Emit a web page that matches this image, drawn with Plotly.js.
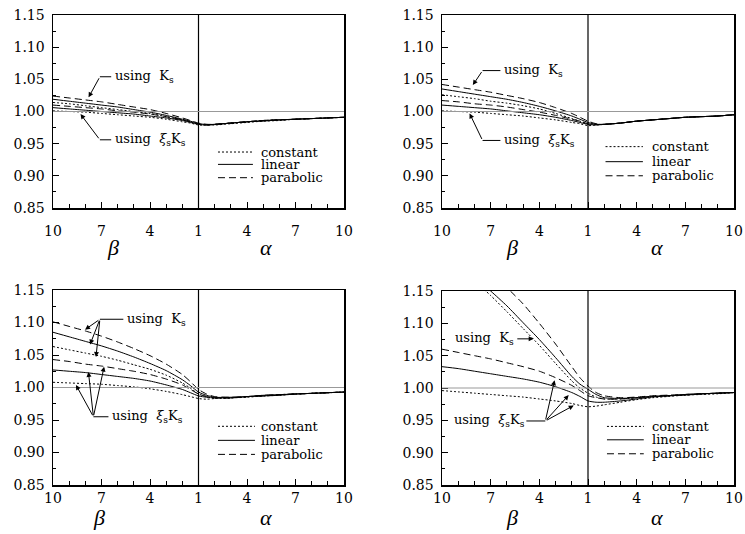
<!DOCTYPE html>
<html><head><meta charset="utf-8">
<script src="https://cdn.plot.ly/plotly-3.0.1.min.js"></script>
<style>html,body{margin:0;padding:0;background:#fff}</style>
</head><body><div id="chart" style="width:745px;height:534px"></div>
<script>
// x positions: beta side (10 -> 1) then alpha side (1.5 -> 10)
const betaPts = [10, 9, 8, 7, 6, 5, 4, 3, 2, 1.5, 1];
const alphaPts = [1.5, 2, 3, 4, 5, 6, 7, 8, 9, 10];
const xTickText = ['10', '7', '4', '1', '4', '7', '10'];
const yTickVals = [0.85, 0.90, 0.95, 1.00, 1.05, 1.10, 1.15];
const methodNames = ['constant', 'linear', 'parabolic'];

// Panel (a) top-left
const aKsCon = [1.014,1.012,1.009,1.006,1.003,1.000,0.997,0.992,0.987,0.984,0.980, 0.979,0.980,0.982,0.984,0.986,0.987,0.988,0.989,0.990,0.991];
const aKsLin = [1.019,1.016,1.013,1.010,1.007,1.003,0.999,0.994,0.988,0.985,0.981, 0.980,0.980,0.982,0.984,0.986,0.987,0.988,0.989,0.990,0.991];
const aKsPar = [1.024,1.021,1.018,1.015,1.011,1.007,1.003,0.997,0.990,0.986,0.982, 0.980,0.980,0.982,0.984,0.986,0.987,0.988,0.989,0.990,0.991];
const aXiCon = [1.001,1.000,0.999,0.997,0.995,0.993,0.991,0.988,0.984,0.982,0.979, 0.979,0.979,0.981,0.983,0.985,0.986,0.988,0.989,0.990,0.991];
const aXiLin = [1.006,1.004,1.002,1.000,0.998,0.996,0.993,0.990,0.986,0.983,0.980, 0.979,0.980,0.982,0.984,0.985,0.987,0.988,0.989,0.990,0.991];
const aXiPar = [1.010,1.008,1.006,1.004,1.001,0.999,0.996,0.992,0.987,0.984,0.981, 0.979,0.980,0.982,0.984,0.986,0.987,0.988,0.989,0.990,0.991];

// Panel (b) top-right
const bKsCon = [1.026,1.023,1.020,1.016,1.013,1.009,1.004,0.997,0.989,0.985,0.981, 0.980,0.980,0.982,0.985,0.987,0.989,0.991,0.992,0.993,0.995];
const bKsLin = [1.035,1.031,1.027,1.023,1.019,1.014,1.008,1.001,0.993,0.988,0.983, 0.980,0.980,0.982,0.985,0.987,0.989,0.991,0.992,0.993,0.995];
const bKsPar = [1.042,1.038,1.034,1.030,1.025,1.020,1.014,1.006,0.997,0.991,0.985, 0.981,0.980,0.982,0.985,0.987,0.989,0.991,0.992,0.993,0.995];
const bXiCon = [1.001,1.000,0.999,0.997,0.995,0.993,0.990,0.987,0.983,0.981,0.978, 0.979,0.980,0.982,0.985,0.987,0.989,0.991,0.992,0.993,0.995];
const bXiLin = [1.010,1.008,1.006,1.004,1.001,0.998,0.995,0.991,0.986,0.983,0.980, 0.979,0.980,0.982,0.985,0.987,0.989,0.991,0.992,0.993,0.995];
const bXiPar = [1.017,1.015,1.012,1.010,1.007,1.003,0.999,0.994,0.988,0.985,0.981, 0.980,0.980,0.982,0.985,0.987,0.989,0.991,0.992,0.993,0.995];

// Panel (c) bottom-left
const cKsCon = [1.063,1.058,1.053,1.048,1.042,1.035,1.028,1.019,1.007,0.999,0.990, 0.986,0.984,0.984,0.986,0.987,0.989,0.990,0.991,0.992,0.993];
const cKsLin = [1.085,1.078,1.071,1.064,1.056,1.047,1.037,1.026,1.012,1.003,0.993, 0.988,0.985,0.985,0.986,0.988,0.989,0.990,0.991,0.992,0.993];
const cKsPar = [1.101,1.094,1.087,1.079,1.070,1.060,1.049,1.036,1.020,1.009,0.997, 0.990,0.986,0.985,0.986,0.988,0.989,0.990,0.991,0.992,0.993];
const cXiCon = [1.008,1.007,1.006,1.005,1.003,1.001,0.998,0.994,0.989,0.986,0.983, 0.982,0.983,0.984,0.985,0.987,0.988,0.990,0.991,0.992,0.993];
const cXiLin = [1.027,1.025,1.023,1.020,1.017,1.014,1.010,1.004,0.997,0.992,0.987, 0.985,0.984,0.984,0.986,0.987,0.988,0.990,0.991,0.992,0.993];
const cXiPar = [1.043,1.040,1.036,1.033,1.029,1.025,1.020,1.013,1.004,0.997,0.990, 0.986,0.984,0.984,0.986,0.987,0.989,0.990,0.991,0.992,0.993];

// Panel (d) bottom-right
const dKsCon = [1.210,1.190,1.166,1.143,1.118,1.092,1.066,1.038,1.011,1.000,0.992, 0.986,0.983,0.983,0.985,0.987,0.988,0.989,0.991,0.992,0.993];
const dKsLin = [1.215,1.195,1.172,1.150,1.127,1.101,1.075,1.047,1.018,1.006,0.998, 0.990,0.985,0.984,0.985,0.987,0.988,0.990,0.991,0.992,0.993];
const dKsPar = [1.235,1.215,1.195,1.175,1.155,1.130,1.100,1.068,1.033,1.016,1.003, 0.993,0.988,0.985,0.986,0.988,0.989,0.990,0.991,0.992,0.993];
const dXiCon = [0.996,0.994,0.992,0.990,0.988,0.986,0.983,0.980,0.976,0.973,0.971, 0.972,0.974,0.978,0.982,0.985,0.987,0.989,0.990,0.991,0.993];
const dXiLin = [1.033,1.030,1.026,1.022,1.018,1.014,1.009,1.002,0.993,0.987,0.980, 0.978,0.978,0.980,0.983,0.986,0.988,0.989,0.991,0.992,0.993];
const dXiPar = [1.060,1.055,1.050,1.045,1.039,1.033,1.026,1.016,1.004,0.996,0.988, 0.985,0.983,0.983,0.985,0.987,0.988,0.990,0.991,0.992,0.993];

// axis mapping: beta on the left (x = 1 - beta), alpha on the right (x = alpha - 1)
const xs = betaPts.map(b => 1 - b).concat(alphaPts.map(a => a - 1));
const xTickVals = [10, 7, 4].map(b => 1 - b).concat([1, 4, 7, 10].map(a => a - 1));

const FONT = 'DejaVu Serif';
const dashes = {constant: '2px,2px', linear: 'solid', parabolic: '7px,4px'};

const panels = [
  {ax: '', series: [[aKsCon, 'constant'], [aKsLin, 'linear'], [aKsPar, 'parabolic'], [aXiCon, 'constant'], [aXiLin, 'linear'], [aXiPar, 'parabolic']]},
  {ax: '2', series: [[bKsCon, 'constant'], [bKsLin, 'linear'], [bKsPar, 'parabolic'], [bXiCon, 'constant'], [bXiLin, 'linear'], [bXiPar, 'parabolic']]},
  {ax: '3', series: [[cKsCon, 'constant'], [cKsLin, 'linear'], [cKsPar, 'parabolic'], [cXiCon, 'constant'], [cXiLin, 'linear'], [cXiPar, 'parabolic']]},
  {ax: '4', series: [[dKsCon, 'constant'], [dKsLin, 'linear'], [dKsPar, 'parabolic'], [dXiCon, 'constant'], [dXiLin, 'linear'], [dXiPar, 'parabolic']]}
];

const traces = [];
panels.forEach(p => {
  p.series.forEach(([vals, m]) => {
    traces.push({
      x: xs, y: vals, type: 'scatter', mode: 'lines', name: m,
      xaxis: 'x' + p.ax, yaxis: 'y' + p.ax, showlegend: false, hoverinfo: 'skip',
      line: {color: '#000', width: 1, dash: dashes[m], shape: 'spline', smoothing: 0.6}
    });
  });
});

function xax(domain, anchor, standoff) {
  return {domain, anchor, range: [-9, 9], tickmode: 'array', tickvals: xTickVals, ticktext: xTickText,
    ticks: 'inside', ticklen: 6, tickwidth: 1, tickcolor: '#000',
    minor: {tickmode: 'linear', tick0: 0, dtick: 1, ticks: 'inside', ticklen: 4, tickcolor: '#000', showgrid: false},
    showline: true, mirror: true, linecolor: '#000', linewidth: 1.5, showgrid: false, zeroline: false,
    tickfont: {family: FONT, size: 14, color: '#000'}, ticklabelstandoff: standoff, fixedrange: true};
}
function yax(domain, anchor) {
  return {domain, anchor, range: [0.85, 1.15], tickmode: 'array', tickvals: yTickVals, tickformat: '.2f',
    ticks: 'inside', ticklen: 6, tickwidth: 1, tickcolor: '#000',
    minor: {tickmode: 'linear', tick0: 0.85, dtick: 0.025, ticks: 'inside', ticklen: 3, tickcolor: '#000', showgrid: false},
    showline: true, mirror: true, linecolor: '#000', linewidth: 1.5, showgrid: false, zeroline: false,
    tickfont: {family: FONT, size: 14, color: '#000'}, ticklabelstandoff: 4, fixedrange: true};
}

const W = 745, H = 534;
const dx = (a, b) => [a / W, b / W];
const dy = (top, bot) => [1 - bot / H, 1 - top / H];

const layout = {
  width: W, height: H, margin: {l: 0, r: 0, t: 0, b: 0},
  paper_bgcolor: '#fff', plot_bgcolor: '#fff', showlegend: false,
  font: {family: FONT, color: '#000'},
  xaxis: xax(dx(53, 344), 'y', 10), yaxis: yax(dy(15, 208), 'x'),
  xaxis2: xax(dx(442, 734), 'y2', 10), yaxis2: yax(dy(15, 208), 'x2'),
  xaxis3: xax(dx(53, 344), 'y3', 0), yaxis3: yax(dy(290, 485), 'x3'),
  xaxis4: xax(dx(442, 734), 'y4', 0), yaxis4: yax(dy(291, 485), 'x4'),
  shapes: [], annotations: []
};

const sub = '<sub>s</sub>';
const txtK = 'using  K' + sub;
const txtXi = 'using  <i>ξ</i>' + sub + 'K' + sub;

// per panel decorations
const deco = [
  {ax: '', betaX: -5.3, alphaX: 4.2, titleY: -0.207,
   legY: [0.290, 0.226, 0.157], legX: [0.567, 0.687, 0.708],
   labels: [
     {t: txtK, x: -5.3, y: 1.054, knee: [-6.1, 1.054], tips: [[-6.8, 1.022]]},
     {t: txtXi, x: -5.3, y: 0.956, knee: [-6.1, 0.956], tips: [[-7.3, 0.996]]}]},
  {ax: '2', betaX: -4.7, alphaX: 4.25, titleY: -0.207,
   legY: [0.318, 0.240, 0.167], legX: [0.560, 0.688, 0.712],
   labels: [
     {t: txtK, x: -5.3, y: 1.0636, knee: [-6.5, 1.0636], tips: [[-7.1, 1.041]]},
     {t: txtXi, x: -5.3, y: 0.955, knee: [-6.5, 0.955], tips: [[-7.3, 0.997]]}]},
  {ax: '3', betaX: -6.15, alphaX: 4.2, titleY: -0.165,
   legY: [0.301, 0.229, 0.157], legX: [0.567, 0.694, 0.708],
   labels: [
     {t: txtK, x: -4.55, y: 1.105, knee: [-6.1, 1.105], tips: [[-7.02, 1.089], [-6.71, 1.066], [-6.34, 1.047]]},
     {t: txtXi, x: -5.47, y: 0.955, knee: [-6.5, 0.955], tips: [[-7.58, 1.004], [-6.81, 1.024], [-5.84, 1.032]]}]},
  {ax: '4', betaX: -4.7, alphaX: 4.25, titleY: -0.168,
   legY: [0.302, 0.233, 0.161], legX: [0.565, 0.691, 0.714],
   labels: [
     {t: txtK, x: -8.3, y: 1.076, knee: [-4.45, 1.076], tips: [[-3.35, 1.076]], noLeader: true},
     {t: txtXi, x: -8.4, y: 0.949, knee: [-2.63, 0.949], tips: [[-2.06, 1.012], [-1.19, 0.989], [-0.88, 0.973]], leaderFrom: -3.8}]}
];

deco.forEach(d => {
  const xr = 'x' + d.ax, yr = 'y' + d.ax;
  // vertical centre line (beta = alpha = 1) and reference line at 1.00
  layout.shapes.push({type: 'line', xref: xr, yref: yr + ' domain', x0: 0, x1: 0, y0: 0, y1: 1, line: {color: '#000', width: 1.2}});
  layout.shapes.push({type: 'line', xref: xr + ' domain', yref: yr, x0: 0, x1: 1, y0: 1, y1: 1, line: {color: '#999', width: 1}});
  // axis titles
  layout.annotations.push({text: '<i>β</i>', xref: xr, yref: yr + ' domain', x: d.betaX, y: d.titleY, showarrow: false,
    font: {family: 'Liberation Serif', size: 22, color: '#000'}, xanchor: 'center', yanchor: 'middle'});
  layout.annotations.push({text: '<i>α</i>', xref: xr, yref: yr + ' domain', x: d.alphaX, y: d.titleY, showarrow: false,
    font: {family: 'Liberation Serif', size: 22, color: '#000'}, xanchor: 'center', yanchor: 'middle'});
  // legend
  methodNames.forEach((m, i) => {
    layout.shapes.push({type: 'line', xref: xr + ' domain', yref: yr + ' domain', x0: d.legX[0], x1: d.legX[1], y0: d.legY[i], y1: d.legY[i],
      line: {color: '#000', width: 1, dash: dashes[m]}});
    layout.annotations.push({text: m, xref: xr + ' domain', yref: yr + ' domain', x: d.legX[2], y: d.legY[i], showarrow: false,
      xanchor: 'left', yanchor: 'middle', font: {family: FONT, size: 13, color: '#000'}});
  });
  // callout labels
  d.labels.forEach(L => {
    layout.annotations.push({text: L.t, xref: xr, yref: yr, x: L.x, y: L.y, showarrow: false, xanchor: 'left', yanchor: 'middle',
      font: {family: FONT, size: 13, color: '#000'}});
    if (!L.noLeader) {
      const from = L.leaderFrom !== undefined ? L.leaderFrom : L.x - 0.1;
      layout.shapes.push({type: 'line', xref: xr, yref: yr, x0: from, x1: L.knee[0], y0: L.y, y1: L.knee[1], line: {color: '#000', width: 1}});
    }
    L.tips.forEach(t => {
      layout.annotations.push({text: '', xref: xr, yref: yr, axref: xr, ayref: yr, x: t[0], y: t[1], ax: L.knee[0], ay: L.knee[1],
        showarrow: true, arrowhead: 2, arrowsize: 1, arrowwidth: 1, arrowcolor: '#000', standoff: 0, startstandoff: 0});
    });
  });
});

Plotly.newPlot('chart', traces, layout, {staticPlot: true, displayModeBar: false});
</script>
</body></html>
